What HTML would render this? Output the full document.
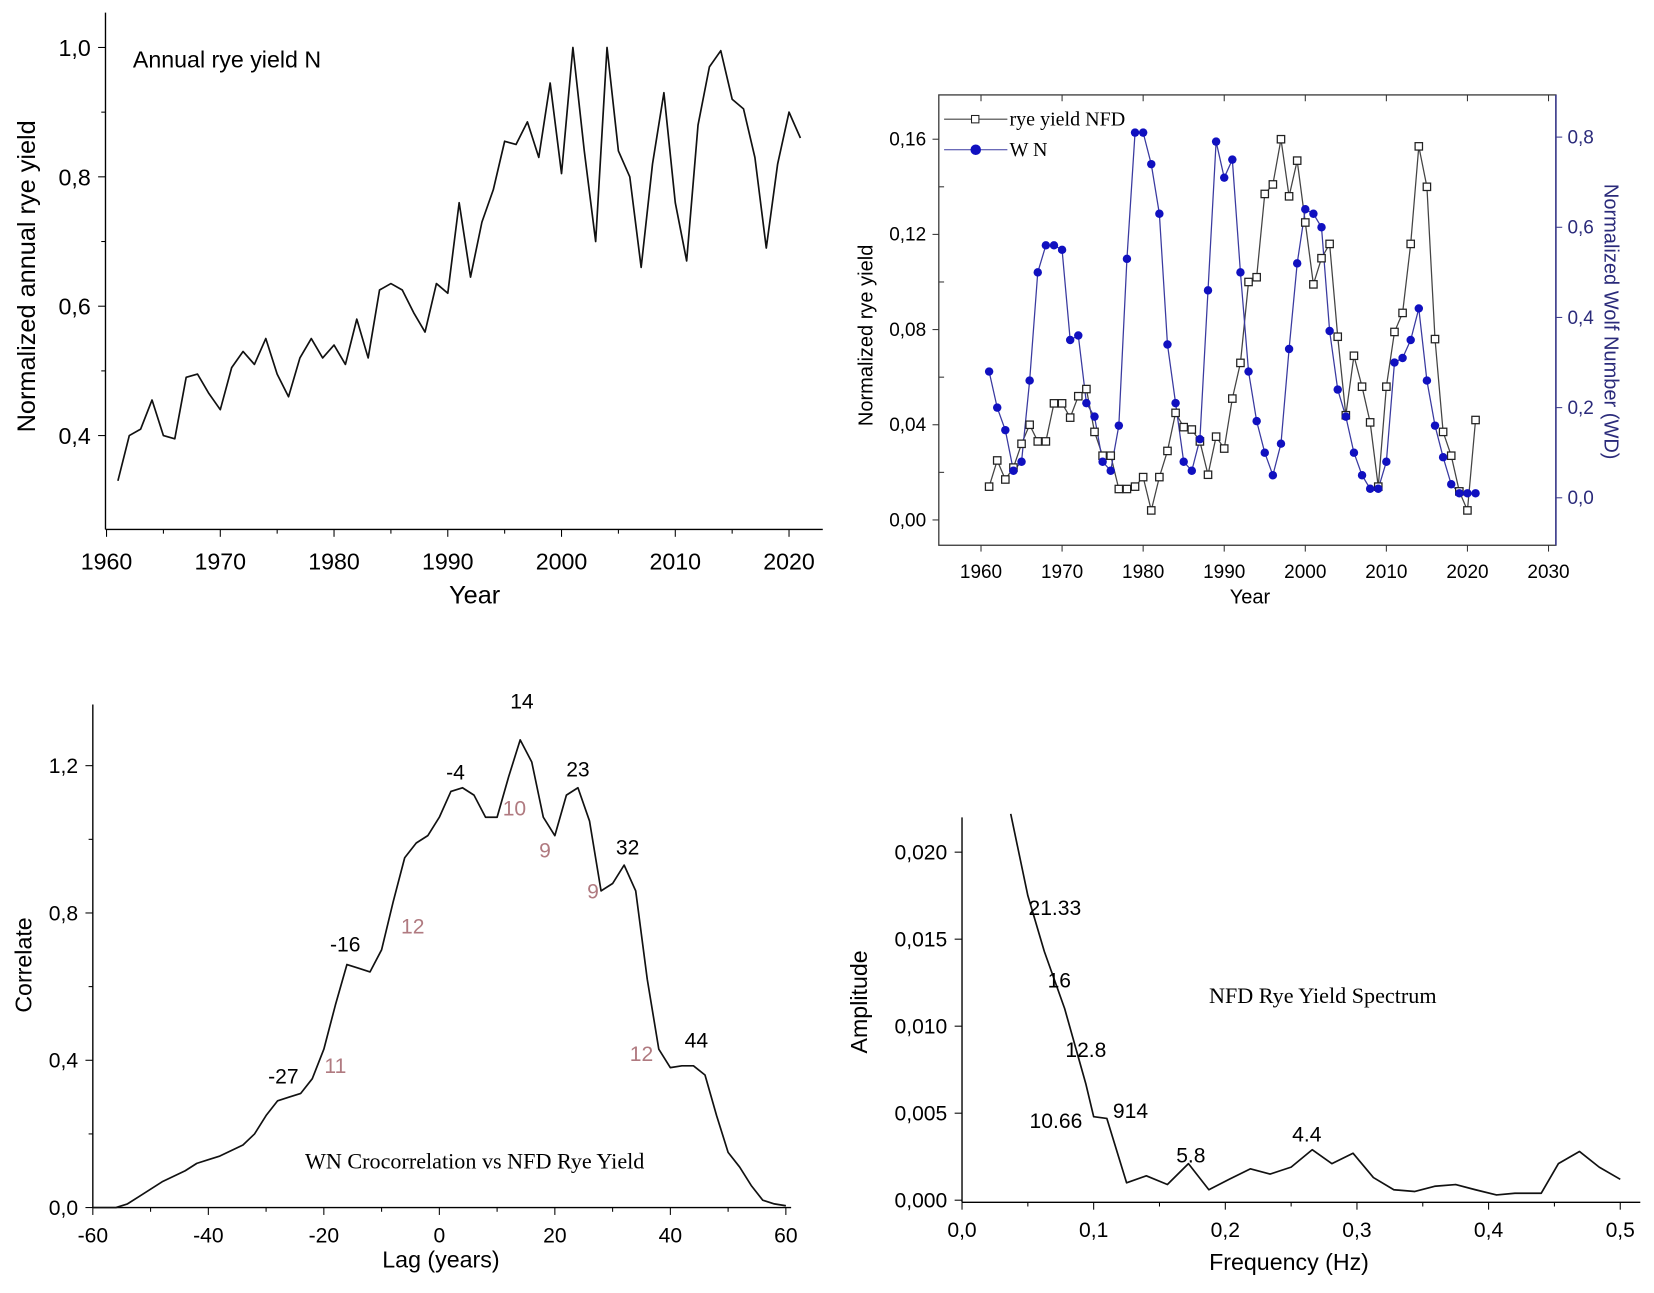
<!DOCTYPE html>
<html><head><meta charset="utf-8">
<style>
html,body{margin:0;padding:0;background:#fff;}
svg{display:block;}
text{font-family:"Liberation Sans",sans-serif;}
.serif{font-family:"Liberation Serif",serif;}
</style></head>
<body>
<svg id="fig" width="1654" height="1293" viewBox="0 0 1568 1226" preserveAspectRatio="none" xmlns="http://www.w3.org/2000/svg">
<g id="c1"></g>
<g id="c2"></g>
<g id="c3"></g>
<g id="c4"></g>
</svg>
<script>
const years1 = [];
for (let y = 1961; y <= 2021; y++) years1.push(y);
const ryeYield = [0.33,0.40,0.41,0.455,0.40,0.395,0.49,0.495,0.465,0.44,0.505,0.53,0.51,0.55,0.495,0.46,0.52,0.55,0.52,0.54,0.51,0.58,0.52,0.625,0.635,0.625,0.59,0.56,0.635,0.62,0.76,0.645,0.73,0.78,0.855,0.85,0.885,0.83,0.945,0.805,1.0,0.84,0.70,1.0,0.84,0.80,0.66,0.82,0.93,0.76,0.67,0.88,0.97,0.995,0.92,0.905,0.83,0.69,0.82,0.90,0.86];
const nfdYield = [0.014,0.025,0.017,0.022,0.032,0.040,0.033,0.033,0.049,0.049,0.043,0.052,0.055,0.037,0.027,0.027,0.013,0.013,0.014,0.018,0.004,0.018,0.029,0.045,0.039,0.038,0.033,0.019,0.035,0.030,0.051,0.066,0.100,0.102,0.137,0.141,0.160,0.136,0.151,0.125,0.099,0.110,0.116,0.077,0.044,0.069,0.056,0.041,0.014,0.056,0.079,0.087,0.116,0.157,0.140,0.076,0.037,0.027,0.012,0.004,0.042];
const wolfN = [0.28,0.20,0.15,0.06,0.08,0.26,0.50,0.56,0.56,0.55,0.35,0.36,0.21,0.18,0.08,0.06,0.16,0.53,0.81,0.81,0.74,0.63,0.34,0.21,0.08,0.06,0.13,0.46,0.79,0.71,0.75,0.50,0.28,0.17,0.10,0.05,0.12,0.33,0.52,0.64,0.63,0.60,0.37,0.24,0.18,0.10,0.05,0.02,0.02,0.08,0.30,0.31,0.35,0.42,0.26,0.16,0.09,0.03,0.01,0.01,0.01];
const lags = [-60,-56,-54,-52,-50,-48,-46,-44,-42,-40,-38,-36,-34,-32,-30,-28,-26,-24,-22,-20,-18,-16,-14,-12,-10,-8,-6,-4,-2,0,2,4,6,8,10,12,14,16,18,20,22,24,26,28,30,32,34,36,38,40,42,44,46,48,50,52,54,56,58,60];
const corr = [0,0,0.01,0.03,0.05,0.07,0.085,0.10,0.12,0.13,0.14,0.155,0.17,0.20,0.25,0.29,0.30,0.31,0.35,0.43,0.55,0.66,0.65,0.64,0.70,0.83,0.95,0.99,1.01,1.06,1.13,1.14,1.12,1.06,1.06,1.17,1.27,1.21,1.06,1.01,1.12,1.14,1.05,0.86,0.88,0.93,0.86,0.62,0.43,0.38,0.385,0.385,0.36,0.25,0.15,0.11,0.06,0.02,0.01,0.005];
const freqs = [0.037,0.05,0.0625,0.078,0.094,0.1,0.11,0.125,0.14,0.156,0.172,0.1875,0.203,0.219,0.234,0.25,0.266,0.281,0.297,0.3125,0.328,0.344,0.359,0.375,0.39,0.406,0.42,0.44,0.453,0.469,0.484,0.5];
const amps = [0.0222,0.0175,0.0143,0.011,0.0067,0.0048,0.0047,0.0010,0.0014,0.0009,0.0021,0.0006,0.0012,0.0018,0.0015,0.0019,0.0029,0.0021,0.0027,0.0013,0.0006,0.0005,0.0008,0.0009,0.0006,0.0003,0.0004,0.0004,0.0021,0.0028,0.0019,0.0012];
const ticks1x = [1960,1970,1980,1990,2000,2010,2020];
const ticks1y = [0.4,0.6,0.8,1.0];
const ticks2x = [1960,1970,1980,1990,2000,2010,2020,2030];
const ticks2yl = [0,0.04,0.08,0.12,0.16];
const ticks2yr = [0,0.2,0.4,0.6,0.8];
const ticks3x = [-60,-40,-20,0,20,40,60];
const ticks3y = [0,0.4,0.8,1.2];
const ticks4x = [0,0.1,0.2,0.3,0.4,0.5];
const ticks4y = [0,0.005,0.010,0.015,0.020];
const peakLabels3 = [["-27",-27,0.352,"#000"],["11",-18,0.381,"#b07a80"],["-16",-16.3,0.71,"#000"],["12",-4.6,0.76,"#b07a80"],["-4",2.8,1.178,"#000"],["10",13,1.08,"#b07a80"],["14",14.3,1.37,"#000"],["9",18.3,0.966,"#b07a80"],["23",24,1.186,"#000"],["9",26.6,0.854,"#b07a80"],["32",32.6,0.974,"#000"],["12",35,0.413,"#b07a80"],["44",44.5,0.45,"#000"]];
const peakLabels4 = [["21.33",0.0505,0.0167],["16",0.065,0.01255],["12.8",0.0785,0.00855],["10.66",0.0513,0.00448],["914",0.1146,0.00503],["5.8",0.1627,0.0025],["4.4",0.2508,0.0037]];

const NS='http://www.w3.org/2000/svg';
function mk(parent,tag,attrs,name,txt){const e=document.createElementNS(NS,tag);for(const k in attrs)e.setAttribute(k,attrs[k]);


if(txt!==undefined)e.textContent=txt;parent.appendChild(e);return e;}
function lin(d0,d1,r0,r1){return v=>r0+(v-d0)*(r1-r0)/(d1-d0);}
function fmt(v,dec){return v.toFixed(dec).replace('.',',');}
function poly(g,xs,ys,sx,sy,name,stroke,w){mk(g,'polyline',{points:xs.map((x,i)=>sx(x)+','+sy(ys[i])).join(' '),fill:'none',stroke:stroke,'stroke-width':w,'stroke-linejoin':'round'},name);}

// Chart 1
(function(){const g=document.getElementById('c1');
const sx=lin(1960,2020,101,748), sy=lin(0.4,1.0,413,45);
mk(g,'line',{x1:100,y1:12,x2:100,y2:502,stroke:'#000','stroke-width':1.3},'y-axis');
mk(g,'line',{x1:100,y1:502,x2:780,y2:502,stroke:'#000','stroke-width':1.3},'x-axis');
ticks1x.forEach(t=>{mk(g,'line',{x1:sx(t),y1:502,x2:sx(t),y2:509,stroke:'#000'},'x-tick');mk(g,'text',{x:sx(t),y:540,'font-size':22,'text-anchor':'middle'},'x-tick-label',t);});
for(let t=1965;t<2025;t+=10)mk(g,'line',{x1:sx(t),y1:502,x2:sx(t),y2:506,stroke:'#000'},'x-minor-tick');
ticks1y.forEach(t=>{mk(g,'line',{x1:93,y1:sy(t),x2:100,y2:sy(t),stroke:'#000'},'y-tick');mk(g,'text',{x:86,y:sy(t)+8,'font-size':22,'text-anchor':'end'},'y-tick-label',fmt(t,1));});
[0.5,0.7,0.9].forEach(t=>mk(g,'line',{x1:96,y1:sy(t),x2:100,y2:sy(t),stroke:'#000'},'y-minor-tick'));
poly(g,years1,ryeYield,sx,sy,'rye-yield-line','#111',1.6);
mk(g,'text',{x:126,y:64,'font-size':22},'chart-title','Annual rye yield N');
mk(g,'text',{x:450,y:572,'font-size':24,'text-anchor':'middle'},'x-axis-title','Year');
mk(g,'text',{x:0,y:0,'font-size':24,'text-anchor':'middle',transform:'translate(33,262) rotate(-90)'},'y-axis-title','Normalized annual rye yield');
})();

// Chart 2
(function(){const g=document.getElementById('c2');
const sx=lin(1960,2030,930,1468), syl=lin(0,0.16,493,132), syr=lin(0,0.8,472,130);
mk(g,'rect',{x:890,y:90,width:585,height:427,fill:'none',stroke:'#333','stroke-width':1.2},'plot-frame');
mk(g,'line',{x1:1475,y1:90,x2:1475,y2:517,stroke:'#3b3b8f','stroke-width':1.5},'right-axis');
ticks2x.forEach(t=>{mk(g,'line',{x1:sx(t),y1:517,x2:sx(t),y2:523,stroke:'#333'},'x-tick');mk(g,'line',{x1:sx(t),y1:90,x2:sx(t),y2:96,stroke:'#333'},'top-tick');mk(g,'text',{x:sx(t),y:548,'font-size':18,'text-anchor':'middle'},'x-tick-label',t);});
ticks2yl.forEach(t=>{mk(g,'line',{x1:884,y1:syl(t),x2:890,y2:syl(t),stroke:'#333'},'y-left-tick');mk(g,'text',{x:878,y:syl(t)+6,'font-size':18,'text-anchor':'end'},'y-left-tick-label',fmt(t,2));});
[0.02,0.06,0.10,0.14].forEach(t=>mk(g,'line',{x1:890,y1:syl(t),x2:895,y2:syl(t),stroke:'#333'},'y-left-minor-tick'));
ticks2yr.forEach(t=>{mk(g,'line',{x1:1475,y1:syr(t),x2:1481,y2:syr(t),stroke:'#3b3b8f'},'y-right-tick');mk(g,'text',{x:1486,y:syr(t)+6,'font-size':18,fill:'#2a2a7a'},'y-right-tick-label',fmt(t,1));});
poly(g,years1,nfdYield,sx,syl,'nfd-line','#444',1.2);
poly(g,years1,wolfN,sx,syr,'wn-line','#3a3aa0',1.2);
years1.forEach((y,i)=>{mk(g,'rect',{x:sx(y)-3.5,y:syl(nfdYield[i])-3.5,width:7,height:7,fill:'#fff',stroke:'#222','stroke-width':1.2},'nfd-point');});
years1.forEach((y,i)=>{mk(g,'circle',{cx:sx(y),cy:syr(wolfN[i]),r:4,fill:'#1010c0'},'wn-point');});
mk(g,'line',{x1:895,y1:113,x2:955,y2:113,stroke:'#444'},'legend-nfd-line');
mk(g,'rect',{x:921,y:109.5,width:7,height:7,fill:'#fff',stroke:'#222'},'legend-nfd-marker');
mk(g,'text',{x:957,y:119,'font-size':19,class:'serif'},'legend-nfd-label','rye yield NFD');
mk(g,'line',{x1:895,y1:142,x2:955,y2:142,stroke:'#3a3aa0'},'legend-wn-line');
mk(g,'circle',{cx:925,cy:142,r:5,fill:'#1010c0'},'legend-wn-marker');
mk(g,'text',{x:957,y:148,'font-size':19,class:'serif'},'legend-wn-label','W N');
mk(g,'text',{x:1185,y:572,'font-size':19,'text-anchor':'middle'},'x-axis-title','Year');
mk(g,'text',{x:0,y:0,'font-size':19,'text-anchor':'middle',transform:'translate(827,318) rotate(-90)'},'y-left-title','Normalized rye yield');
mk(g,'text',{x:0,y:0,'font-size':19,'text-anchor':'middle',fill:'#2a2a7a',transform:'translate(1521,305) rotate(90)'},'y-right-title','Normalized Wolf Number (WD)');
})();

// Chart 3
(function(){const g=document.getElementById('c3');
const sx=lin(-60,60,88,745), sy=lin(0,1.2,1145,726);
mk(g,'line',{x1:88,y1:668,x2:88,y2:1145,stroke:'#000','stroke-width':1.3},'y-axis');
mk(g,'line',{x1:88,y1:1145,x2:750,y2:1145,stroke:'#000','stroke-width':1.3},'x-axis');
ticks3x.forEach(t=>{mk(g,'line',{x1:sx(t),y1:1145,x2:sx(t),y2:1152,stroke:'#000'},'x-tick');mk(g,'text',{x:sx(t),y:1178,'font-size':20,'text-anchor':'middle'},'x-tick-label',t);});
for(let t=-50;t<60;t+=20)mk(g,'line',{x1:sx(t),y1:1145,x2:sx(t),y2:1149,stroke:'#000'},'x-minor-tick');
ticks3y.forEach(t=>{mk(g,'line',{x1:81,y1:sy(t),x2:88,y2:sy(t),stroke:'#000'},'y-tick');mk(g,'text',{x:74,y:sy(t)+7,'font-size':20,'text-anchor':'end'},'y-tick-label',fmt(t,1));});
[0.2,0.6,1.0].forEach(t=>mk(g,'line',{x1:84,y1:sy(t),x2:88,y2:sy(t),stroke:'#000'},'y-minor-tick'));
poly(g,lags,corr,sx,sy,'correlation-line','#111',1.6);
peakLabels3.forEach(p=>mk(g,'text',{x:sx(p[1]),y:sy(p[2]),'font-size':20,'text-anchor':'middle','dominant-baseline':'middle',fill:p[3]},'peak-label',p[0]));
mk(g,'text',{x:450,y:1108,'font-size':21,'text-anchor':'middle',class:'serif'},'chart-title','WN Crocorrelation vs NFD Rye Yield');
mk(g,'text',{x:418,y:1202,'font-size':22,'text-anchor':'middle'},'x-axis-title','Lag (years)');
mk(g,'text',{x:0,y:0,'font-size':22,'text-anchor':'middle',transform:'translate(30,915) rotate(-90)'},'y-axis-title','Correlate');
})();

// Chart 4
(function(){const g=document.getElementById('c4');
const sx=lin(0,0.5,912,1536), sy=lin(0,0.020,1138,808);
mk(g,'line',{x1:912,y1:775,x2:912,y2:1140,stroke:'#000','stroke-width':1.3},'y-axis');
mk(g,'line',{x1:912,y1:1140,x2:1555,y2:1140,stroke:'#000','stroke-width':1.3},'x-axis');
ticks4x.forEach(t=>{mk(g,'line',{x1:sx(t),y1:1140,x2:sx(t),y2:1147,stroke:'#000'},'x-tick');mk(g,'text',{x:sx(t),y:1173,'font-size':20,'text-anchor':'middle'},'x-tick-label',fmt(t,1));});
for(let t=0.05;t<0.55;t+=0.1)mk(g,'line',{x1:sx(t),y1:1140,x2:sx(t),y2:1144,stroke:'#000'},'x-minor-tick');
ticks4y.forEach(t=>{mk(g,'line',{x1:905,y1:sy(t),x2:912,y2:sy(t),stroke:'#000'},'y-tick');mk(g,'text',{x:898,y:sy(t)+7,'font-size':20,'text-anchor':'end'},'y-tick-label',fmt(t,3));});
poly(g,freqs,amps,sx,sy,'spectrum-line','#111',1.6);
peakLabels4.forEach(p=>mk(g,'text',{x:sx(p[1]),y:sy(p[2]),'font-size':20,'text-anchor':'start','dominant-baseline':'middle'},'peak-label',p[0]));
mk(g,'text',{x:1254,y:951,'font-size':21,'text-anchor':'middle',class:'serif'},'chart-title','NFD Rye Yield Spectrum');
mk(g,'text',{x:1222,y:1204,'font-size':22,'text-anchor':'middle'},'x-axis-title','Frequency (Hz)');
mk(g,'text',{x:0,y:0,'font-size':22,'text-anchor':'middle',transform:'translate(822,950) rotate(-90)'},'y-axis-title','Amplitude');
})();
</script>
</body></html>
